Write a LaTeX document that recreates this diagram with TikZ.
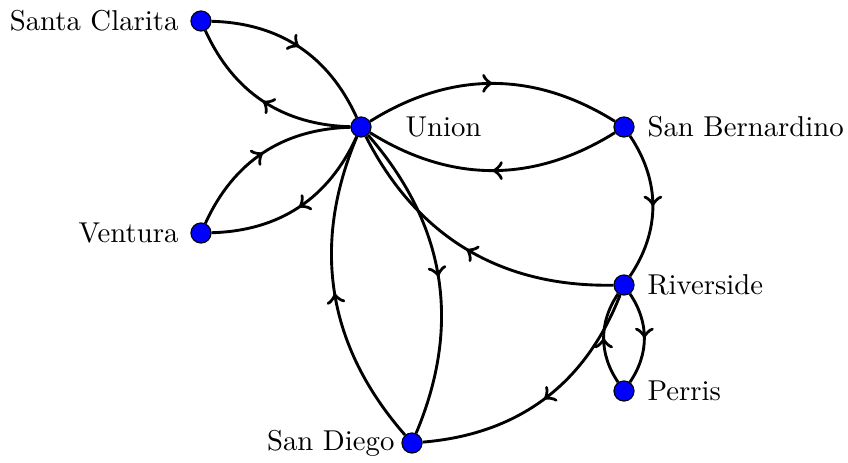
\documentclass[tikz,border=0pt]{standalone}
\usetikzlibrary{decorations.markings}
\begin{document}
\begin{tikzpicture}[x=0.348pt,y=-0.348pt,
  vertex/.style={circle,fill=blue,draw=black,minimum size=7pt,inner sep=0pt},
  lbl/.style={inner sep=0pt},
  edge/.style={line width=1pt,postaction={decorate},decoration={markings,mark=at position 0.5 with {\arrow[scale=1.2]{>}}}}]
\useasboundingbox (0,0) rectangle (848,462);
\node[vertex] (sc) at (201,21) {};
\node[vertex] (u) at (361,127) {};
\node[vertex] (sb) at (624,127) {};
\node[vertex] (v) at (201,233) {};
\node[vertex] (r) at (624,285) {};
\node[vertex] (p) at (624,391) {};
\node[vertex] (sd) at (412,443) {};
\node[lbl,anchor=east] (lsc) at (179,21) {Santa Clarita};
\node[lbl,anchor=west] (lu) at (405,127) {Union};
\node[lbl,anchor=west] (lsb) at (647,127) {San Bernardino};
\node[lbl,anchor=east] (lv) at (179,233) {Ventura};
\node[lbl,anchor=west] (lr) at (647,285) {Riverside};
\node[lbl,anchor=west] (lp) at (647,391) {Perris};
\node[lbl,anchor=east] (lsd) at (395,443) {San Diego};
\draw[edge] (sc) to[bend left=32] (u);
\draw[edge] (u) to[bend left=32] (sc);
\draw[edge] (v) to[bend left=32] (u);
\draw[edge] (u) to[bend left=32] (v);
\draw[edge] (u) to[bend left=32] (sb);
\draw[edge] (sb) to[bend left=32] (u);
\draw[edge] (sb) to[bend left=34] (r);
\draw[edge] (r) to[bend left=32] (u);
\draw[edge] (u) to[bend left=32] (sd);
\draw[edge] (sd) to[bend left=32] (u);
\draw[edge] (r) to[bend left=32] (sd);
\draw[edge] (r) to[bend left=34] (p);
\draw[edge] (p) to[bend left=34] (r);
\end{tikzpicture}
\end{document}
